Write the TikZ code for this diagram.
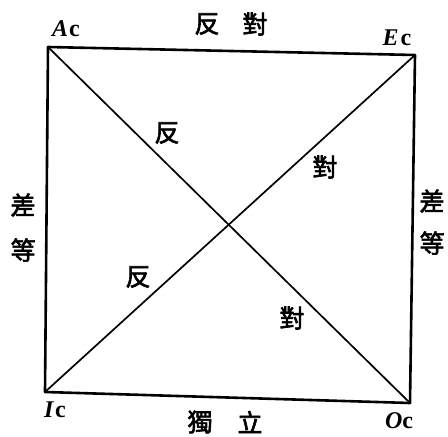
\documentclass[tikz,border=0pt]{standalone}
\usepackage{fontspec}
\newfontfamily\cjk{Noto Sans CJK TC}[FakeBold=2.5]
\newfontfamily\latfont{Liberation Serif}
\tikzset{
  edge/.style={line width=2.6pt, line cap=round, line join=round},
  diag/.style={line width=1.7pt, line cap=round},
  zh/.style={inner sep=0pt, font=\cjk\fontsize{25}{25}\selectfont},
  corner/.style={inner sep=0pt, font=\latfont\fontsize{24}{24}\selectfont\bfseries}
}
\begin{document}
\begin{tikzpicture}[x=1pt,y=-1pt]
\useasboundingbox (0,0) rectangle (448,437);
\coordinate (A) at (48,47);
\coordinate (E) at (415,55);
\coordinate (I) at (45,392);
\coordinate (O) at (410,403);
\draw[edge] (A) -- (E) -- (O) -- (I) -- cycle;
\draw[diag] (A) -- (O);
\draw[diag] (I) -- (E);
\node[corner] (lA) at (66,29) {\textit{A}\kern1pt c};
\node[corner] (lE) at (397,38) {\textit{E}\kern2pt c};
\node[corner] (lI) at (55,410) {\textit{I}\kern1pt c};
\node[corner] (lO) at (399,421) {\textit{O}c};
\node[zh] (t1) at (207,24) {反};
\node[zh] (t2) at (255,24) {對};
\node[zh] (b1) at (200,422) {獨};
\node[zh] (b2) at (250,422) {立};
\node[zh] (l1) at (23,205) {差};
\node[zh] (l2) at (23,250) {等};
\node[zh] (r1) at (432,201) {差};
\node[zh] (r2) at (432,243) {等};
\node[zh] (d1) at (167,133) {反};
\node[zh] (d2) at (325,167) {對};
\node[zh] (d3) at (138,277) {反};
\node[zh] (d4) at (292,318) {對};
\end{tikzpicture}
\end{document}
